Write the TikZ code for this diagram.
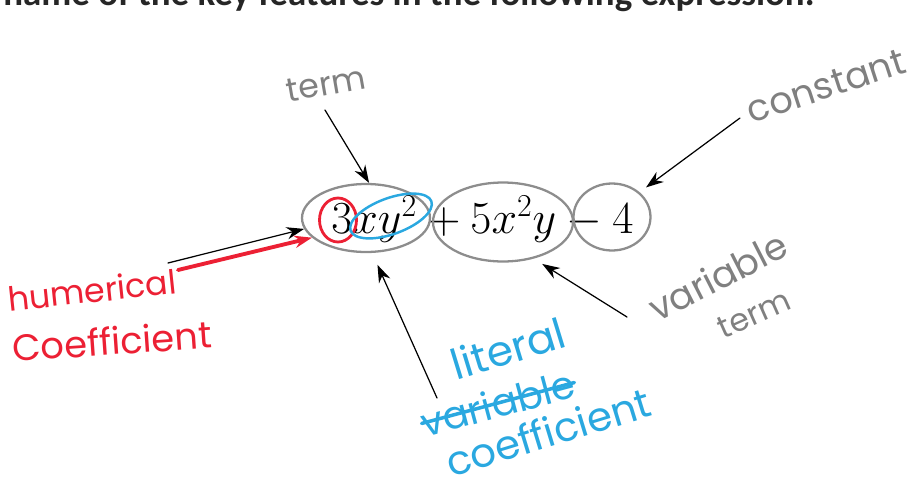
\documentclass[tikz,border=0pt]{standalone}
\usepackage{fontspec}
\newfontfamily\hand{Poppins}
\newfontfamily\head{Carlito}
\usetikzlibrary{shapes.geometric,arrows.meta}
\definecolor{pencil}{RGB}{128,128,128}
\definecolor{redpen}{RGB}{236,32,52}
\definecolor{bluepen}{RGB}{42,168,224}
\begin{document}
\begin{tikzpicture}[x=0.02cm,y=-0.02cm,>={Stealth[length=10pt,width=7pt]}, line join=round, line cap=round,
	ring/.style={draw=pencil!90, line width=1.3pt, ellipse, inner sep=0pt},
	note/.style={inner sep=0pt, text=pencil},
	hsize/.style={font=\hand\fontsize{#1}{#1}\selectfont}]
	\useasboundingbox (0,0) rectangle (914,487);
	\clip (0,0) rectangle (914,487);
	\node[anchor=base west, inner sep=0pt, text=black!85, font=\head\bfseries\fontsize{21}{24}\selectfont] (title) at (3,5) {name of the key features in the following expression.};
	\node[anchor=base west, inner sep=0pt, scale=1.05, font=\fontsize{25}{30}\selectfont] (expr) at (331,233) {$3xy^2+5x^2y-4$};
	\node[ring, minimum width=2.56cm, minimum height=1.36cm] (t1) at (366,218) {};
	\node[ring, minimum width=2.8cm, minimum height=1.58cm] (t2) at (503,222) {};
	\node[ring, minimum width=1.54cm, minimum height=1.34cm] (t3) at (612,217) {};
	\node[ring, draw=redpen, line width=1.6pt, minimum width=0.74cm, minimum height=0.88cm] (coef) at (338,220) {};
	\node[ring, draw=bluepen, line width=1.4pt, minimum width=1.72cm, minimum height=0.72cm, rotate=20] (lit) at (391,216) {};
	\path
		(325,110) coordinate (termT)
		(740,118) coordinate (constT)
		(168,263) coordinate (numT)
		(178,270) coordinate (numR)
		(437,398) coordinate (litT)
		(627,317) coordinate (varT)
		;
	\node[note, hsize=19, rotate=10] (lterm) at (326,84) {term};
	\node[note, hsize=21, rotate=18] (lconst) at (826,86) {constant};
	\node[note, hsize=21, rotate=27] (lvar) at (718,276) {variable};
	\node[note, hsize=18, rotate=24] (lvterm) at (754,314) {term};
	\node[note, hsize=19, text=redpen, rotate=6] (lnum) at (92,290) {humerical};
	\node[note, hsize=21, text=redpen, rotate=4] (lcoef) at (112,341) {Coefficient};
	\node[note, hsize=24, text=bluepen, rotate=17] (llit) at (508,348) {literal};
	\node[note, hsize=22, text=bluepen, rotate=15] (lvar2) at (498,403) {variable};
	\node[note, hsize=23, text=bluepen, rotate=17] (lcoef2) at (548,432) {coefficient};
	\draw[bluepen, line width=2pt] (lvar2.west) -- (lvar2.east);
	\foreach \a/\b/\s in {termT/t1.85/0, constT/t3.42/8, numT/t1.190/0, litT/t1.-80/13, varT/t2.-50/10}
		\draw[->, line width=0.7pt, shorten >=\s*0.02cm] (\a) -- (\b);
	\draw[->, redpen, line width=2.2pt] (numR) -- (t1.200);
\end{tikzpicture}
\end{document}
